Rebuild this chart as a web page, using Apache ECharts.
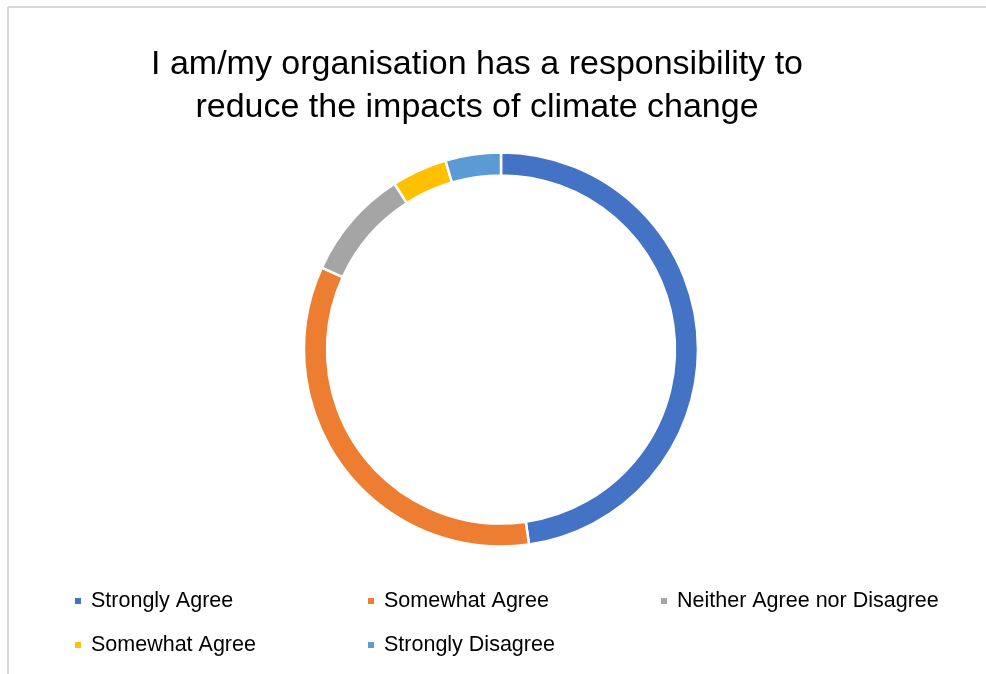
<!DOCTYPE html>
<html>
<head>
<meta charset="utf-8">
<script src="https://cdn.jsdelivr.net/npm/echarts@6/dist/echarts.min.js"></script>
<style>
html,body{margin:0;padding:0;background:#fff;}
#chart{width:986px;height:674px;}
</style>
</head>
<body>
<div id="chart"></div>
<script>
var titleText = "I am/my organisation has a responsibility to\nreduce the impacts of climate change";
var categories = ["Strongly Agree", "Somewhat Agree", "Neither Agree nor Disagree", "Somewhat Agree", "Strongly Disagree"];
var values = [21, 15, 4, 2, 2];
var colors = ["#4472C4", "#ED7D31", "#A5A5A5", "#FFC000", "#5B9BD5"];

var FONT = "'Liberation Sans', sans-serif";
var pieData = categories.map(function (c, i) {
  return { name: c + "#" + i, value: values[i], itemStyle: { color: colors[i] } };
});

var chart = echarts.init(document.getElementById('chart'));
chart.setOption({
  backgroundColor: '#fff',
  animation: false,
  title: {
    text: titleText,
    left: 477,
    textAlign: 'center',
    top: 43,
    padding: 0,
    textStyle: { fontFamily: FONT, fontSize: 34, fontWeight: 'normal', color: '#000', lineHeight: 43 }
  },
  graphic: [
    { type: 'line', shape: { x1: 8, y1: 7, x2: 986, y2: 7 }, style: { stroke: '#D9D9D9', lineWidth: 2 } },
    { type: 'line', shape: { x1: 8, y1: 7, x2: 8, y2: 674 }, style: { stroke: '#D9D9D9', lineWidth: 2 } }
  ],
  legend: {
    left: 73,
    top: 589,
    width: 880,
    padding: 0,
    orient: 'horizontal',
    icon: 'rect',
    itemWidth: 8,
    itemHeight: 8,
    itemGap: 20,
    formatter: function (n) { return n.split('#')[0]; },
    textStyle: { fontFamily: FONT, fontSize: 21.5, color: '#000', width: 255, lineHeight: 24, padding: [0, 0, 0, 4] },
    selectedMode: false
  },
  series: [{
    type: 'pie',
    center: [501, 349.5],
    radius: [174, 197],
    startAngle: 90,
    clockwise: true,
    label: { show: false },
    labelLine: { show: false },
    emphasis: { disabled: true },
    itemStyle: { borderColor: '#fff', borderWidth: 2.5 },
    data: pieData
  }]
});
</script>
</body>
</html>
